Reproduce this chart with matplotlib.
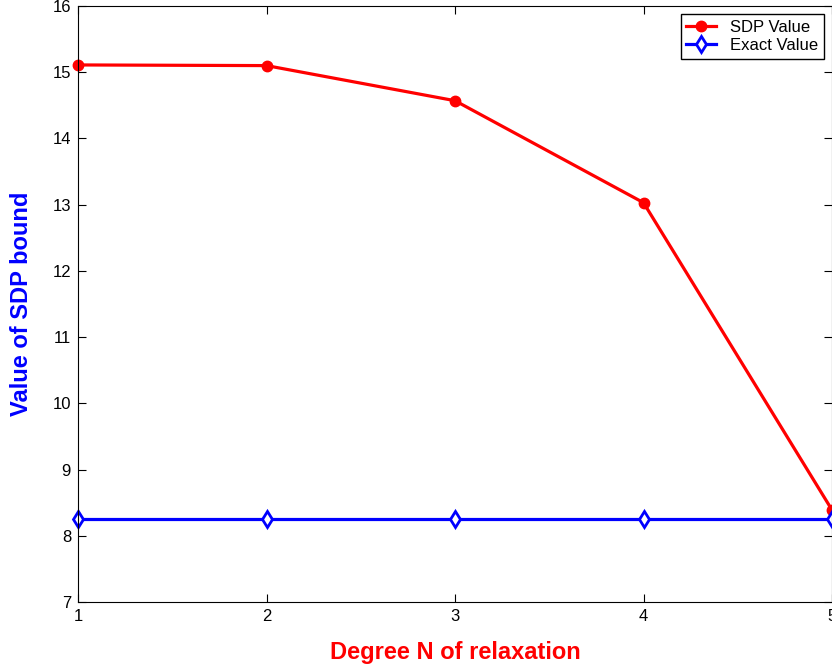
import matplotlib
matplotlib.use('Agg')
import matplotlib.pyplot as plt

plt.rcParams['font.family'] = ['Liberation Sans', 'DejaVu Sans']

degree = [1, 2, 3, 4, 5]
sdp_value = [15.11, 15.10, 14.57, 13.03, 8.39]
exact_value = [8.26, 8.26, 8.26, 8.26, 8.26]

fig = plt.figure(figsize=(8.32, 6.7), dpi=100)
ax = fig.add_axes([78 / 832, 68 / 670, 754 / 832, 596 / 670])

ax.plot(degree, sdp_value, '-o', color='red', lw=2.3, markersize=7.5, label='SDP Value', clip_on=False)
ax.plot(degree, exact_value, '-d', color='blue', lw=2.3, markersize=8.5, markerfacecolor='white',
        markeredgewidth=2, label='Exact Value', clip_on=False)

ax.set_xlim(1, 5)
ax.set_ylim(7, 16)
ax.set_xticks(degree)
ax.set_yticks(range(7, 17))
ax.tick_params(direction='in', top=True, right=True, labelsize=12, length=6, pad=5)

ax.set_xlabel('Degree N of relaxation', color='red', fontsize=17, fontweight='bold', labelpad=12)
ax.set_ylabel('Value of SDP bound', color='blue', fontsize=17, fontweight='bold', labelpad=14)

leg = ax.legend(loc='upper right', fontsize=12, fancybox=False, framealpha=1, edgecolor='black',
                borderpad=0.35, labelspacing=0.15, handlelength=1.8, handletextpad=0.8,
                borderaxespad=0.5)
leg.get_frame().set_linewidth(1)

fig.savefig('out.png', dpi=100)
